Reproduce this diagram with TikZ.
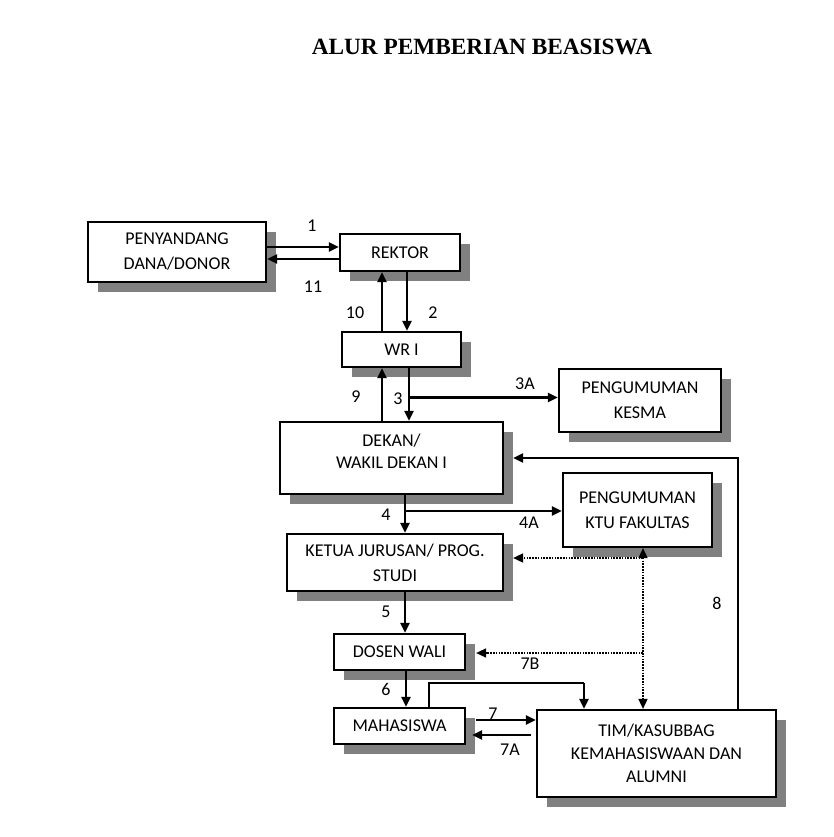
\documentclass[tikz,border=0pt]{standalone}
\usepackage{fontspec}
\setmainfont{Carlito}
\newfontfamily\titlefont{Liberation Serif}
\usetikzlibrary{arrows.meta,shadows,calc}
\definecolor{shadowgray}{RGB}{128,128,128}
\tikzset{
  box/.style={draw, line width=2.2pt, fill=white, align=center, inner sep=0pt,
    font=\fontsize{18}{25}\selectfont,
    drop shadow={shadow xshift=10pt, shadow yshift=-10pt, fill=shadowgray, opacity=1}},
  arr/.style={line width=2.2pt, -{Triangle[length=10pt,width=9pt]}},
  plain/.style={line width=2.2pt},
  dot/.style={line width=1.6pt, dash pattern=on 1.6pt off 1.2pt},
  dotarr/.style={dot, -{Triangle[length=10pt,width=9pt]}},
  lbl/.style={font=\fontsize{18}{20}\selectfont, inner sep=0pt}
}
\begin{document}
\begin{tikzpicture}[x=1pt,y=-1pt]
\useasboundingbox (0,0) rectangle (833,837);
% title
\node[anchor=base, font=\titlefont\bfseries\fontsize{23.3}{26}\selectfont, inner sep=0pt] (title) at (482,55) {ALUR PEMBERIAN BEASISWA};
% boxes
\node[box, minimum width=178pt, minimum height=60pt] (pen) at (177,252) {PENYANDANG\\DANA/DONOR};
\node[box, minimum width=120pt, minimum height=37pt] (rek) at (400,252.5) {REKTOR};
\node[box, minimum width=119pt, minimum height=35pt] (wr) at (401.5,349.5) {WR I};
\node[box, minimum width=223pt, minimum height=72pt] (dek) at (391.5,458) {DEKAN/\\[-3pt]WAKIL DEKAN I\\[-12pt]\mbox{}};
\node[box, minimum width=162pt, minimum height=63pt] (kes) at (640,400.5) {PENGUMUMAN\\KESMA};
\node[box, minimum width=149pt, minimum height=74pt] (ktu) at (637.5,510) {PENGUMUMAN\\KTU FAKULTAS};
\node[box, minimum width=216pt, minimum height=57pt] (ket) at (395,562.5) {KETUA JURUSAN/ PROG.\\STUDI};
\node[box, minimum width=131pt, minimum height=36pt] (dos) at (399.5,652) {DOSEN WALI};
\node[box, minimum width=131pt, minimum height=36pt] (mah) at (399.5,726) {MAHASISWA};
\node[box, minimum width=239pt, minimum height=87pt, font=\fontsize{18}{23}\selectfont] (tim) at (656.5,753.5) {TIM/KASUBBAG\\KEMAHASISWAAN DAN\\ALUMNI};
% helper coordinates
\coordinate (b3) at (409,397.5);
\coordinate (b4) at (405,511);
\coordinate (d1) at (643,558);
\coordinate (d2) at (643,653);
\coordinate (m1) at (584,683);
% connectors
\draw[arr] (pen.east |- 0,247) -- (rek.west |- 0,247);
\draw[arr] (rek.west |- 0,259) -- (pen.east |- 0,259);
\draw[arr] (wr.north -| 382,0) -- (rek.south -| 382,0);
\draw[arr] (rek.south -| 407,0) -- (wr.north -| 407,0);
\draw[arr] (dek.north -| 382,0) -- (wr.south -| 382,0);
\draw[arr] (wr.south -| 409,0) -- (dek.north -| 409,0);
\draw[arr] (b3) -- (kes.west |- b3);
\draw[arr] (tim.north -| 738,0) |- ($(dek.east)+(9,0)$);
\draw[arr] (dek.south -| 405,0) -- (ket.north -| 405,0);
\draw[arr] (b4) -- (ktu.west |- b4);
\draw[dotarr, {Triangle[length=10pt,width=9pt]}-{Triangle[length=10pt,width=9pt]}] (ktu.south -| 643,0) -- (tim.north -| 643,0);
\draw[dotarr] (d1) -- ($(ket.east |- d1)+(9,0)$);
\draw[arr] (ket.south -| 405,0) -- (dos.north -| 405,0);
\draw[dotarr] (d2) -- ($(dos.east |- d2)+(10,0)$);
\draw[arr] (dos.south -| 406,0) -- (mah.north -| 406,0);
\draw[plain] (mah.north -| 429,0) |- (m1);
\draw[arr] (m1) -- (tim.north -| m1);
\draw[arr] ($(mah.east |- 0,720)+(10,0)$) -- (tim.west |- 0,720);
\draw[arr] ($(tim.west |- 0,735)+(-5,0)$) -- ($(mah.east |- 0,735)+(6,0)$);
% labels
\node[lbl] (l1) at (312,226) {1};
\node[lbl] (l11) at (313,287) {11};
\node[lbl] (l10) at (355,313) {10};
\node[lbl] (l2) at (433,313) {2};
\node[lbl] (l9) at (356,397) {9};
\node[lbl] (l3) at (398,399) {3};
\node[lbl] (l3a) at (525,384) {3A};
\node[lbl] (l4) at (386,515) {4};
\node[lbl] (l4a) at (529,523) {4A};
\node[lbl] (l5) at (386,612) {5};
\node[lbl] (l8) at (717,603) {8};
\node[lbl] (l7b) at (530,664) {7B};
\node[lbl] (l6) at (386,689) {6};
\node[lbl] (l7) at (493,714) {7};
\node[lbl] (l7a) at (510,750) {7A};
\end{tikzpicture}
\end{document}
